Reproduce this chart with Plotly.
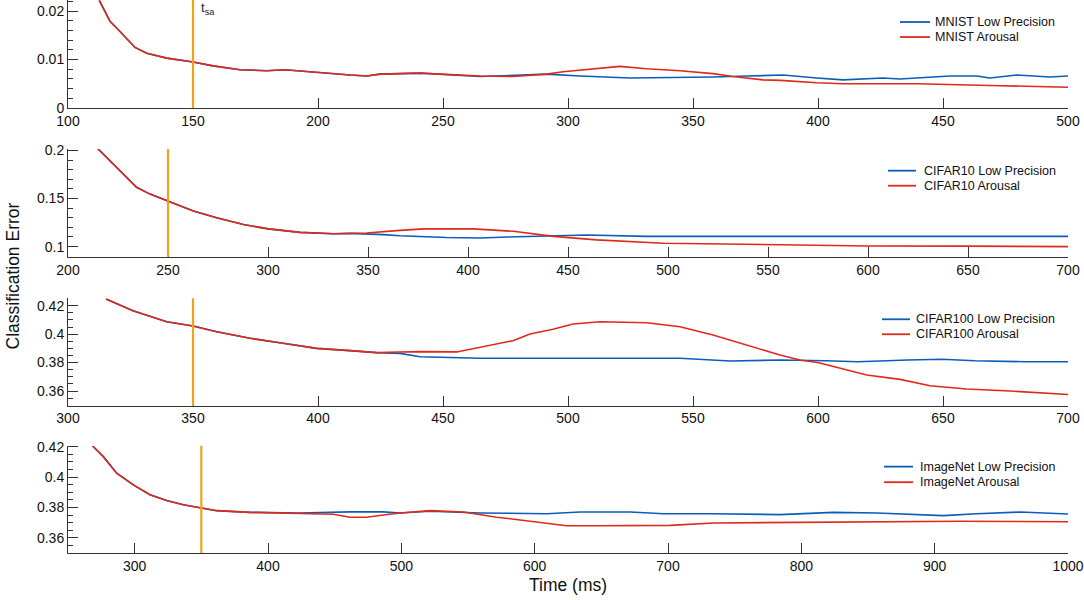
import plotly.graph_objects as go

# ---------------- data ----------------
panel_names = ["MNIST", "CIFAR10", "CIFAR100", "ImageNet"]
t_sa = [150, 250, 350, 350]

mnist_red_x = [112.5, 116.8, 120.8, 126.8, 131.5, 139.5, 150, 158, 168.8, 179.5, 186.7, 199.5,
               212.8, 219.5, 224.8, 240.8, 251.5, 264.8, 278, 291.5, 298, 311.5, 320.8, 331.5,
               344.8, 358, 366, 378, 385, 399.5, 410, 439.5, 459.5, 472.8, 500]
mnist_red_y = [0.0222, 0.0179, 0.0158, 0.0125, 0.0113, 0.0103, 0.0095, 0.0087, 0.0079, 0.0077,
               0.0079, 0.0073, 0.0068, 0.0066, 0.0070, 0.0072, 0.0069, 0.0066, 0.0065, 0.0070,
               0.0075, 0.0081, 0.0086, 0.0081, 0.0077, 0.0071, 0.0065, 0.0058, 0.0057, 0.0052,
               0.0050, 0.0050, 0.0047, 0.0046, 0.0043]
mnist_blue_x = [112.5, 116.8, 120.8, 126.8, 131.5, 139.5, 150, 158, 168.8, 179.5, 186.7, 199.5,
                212.8, 219.5, 224.8, 240.8, 251.5, 264.8, 291.5, 304.8, 324.8, 344.8, 358, 371.5,
                386, 399.5, 410, 426, 432.8, 452.8, 463.5, 468.8, 479.5, 492.8, 500]
mnist_blue_y = [0.0222, 0.0179, 0.0158, 0.0125, 0.0113, 0.0103, 0.0095, 0.0087, 0.0079, 0.0077,
                0.0079, 0.0073, 0.0068, 0.0066, 0.0070, 0.0072, 0.0069, 0.0065, 0.0070, 0.0066,
                0.0062, 0.0063, 0.0064, 0.0066, 0.0068, 0.0062, 0.0058, 0.0062, 0.0060, 0.0066,
                0.0066, 0.0062, 0.0068, 0.0064, 0.0066]

cifar10_red_x = [214.8, 220.2, 226, 234.3, 241, 249.8, 262.7, 274.3, 287.7, 300.2, 316, 332.7,
                 349.3, 366, 377.7, 402.7, 422.7, 442.7, 464.3, 497.7, 522.7, 547.7, 600, 650, 700]
cifar10_red_y = [0.2021, 0.1908, 0.1789, 0.1617, 0.1546, 0.1475, 0.1370, 0.1300, 0.1229, 0.1184,
                 0.1148, 0.1134, 0.1141, 0.1169, 0.1184, 0.1184, 0.1159, 0.1106, 0.1070, 0.1035,
                 0.1028, 0.1014, 0.1007, 0.1005, 0.1000]
cifar10_blue_x = [214.8, 220.2, 226, 234.3, 241, 249.8, 262.7, 274.3, 287.7, 300.2, 316, 332.7,
                  341, 357.7, 366, 389.3, 406, 420, 439.3, 459.3, 489.3, 522.7, 547.7, 600, 650, 700]
cifar10_blue_y = [0.2021, 0.1908, 0.1789, 0.1617, 0.1546, 0.1475, 0.1370, 0.1300, 0.1229, 0.1184,
                  0.1148, 0.1134, 0.1138, 0.1125, 0.1113, 0.1095, 0.1090, 0.1100, 0.1113, 0.1120,
                  0.1106, 0.1106, 0.1100, 0.1104, 0.1106, 0.1106]

cifar100_red_x = [315.2, 326, 339.5, 350, 359.5, 372.8, 386, 399.5, 412.8, 423.5, 432.8, 440.8,
                  455.5, 464.8, 478, 484.8, 494, 502, 512.8, 531.5, 544.8, 558, 571.5, 576.8,
                  584.8, 592.8, 600.3, 619.5, 632.8, 644.8, 659.5, 676.8, 696.8, 700]
cifar100_red_y = [0.4247, 0.4165, 0.4087, 0.4057, 0.4017, 0.3971, 0.3936, 0.3900, 0.3884, 0.3870,
                  0.3874, 0.3877, 0.3875, 0.3908, 0.3954, 0.4001, 0.4034, 0.4071, 0.4087, 0.4080,
                  0.4052, 0.3994, 0.3924, 0.3893, 0.3853, 0.3818, 0.3799, 0.3713, 0.3682, 0.3637,
                  0.3614, 0.3600, 0.3579, 0.3576]
cifar100_blue_x = [315.2, 326, 339.5, 350, 359.5, 372.8, 386, 399.5, 412.8, 423.5, 432.8, 440.8,
                   464.8, 500, 544.8, 564.8, 584.8, 603, 616, 636, 649.5, 662.8, 682.8, 700]
cifar100_blue_y = [0.4247, 0.4165, 0.4087, 0.4057, 0.4017, 0.3971, 0.3936, 0.3900, 0.3884, 0.3870,
                   0.3865, 0.3841, 0.3830, 0.3830, 0.3830, 0.3811, 0.3818, 0.3813, 0.3806, 0.3818,
                   0.3823, 0.3813, 0.3806, 0.3806]

imagenet_red_x = [268.5, 276.5, 286.5, 299, 311.5, 324, 336.5, 349.8, 361.5, 386.5, 411.5, 436.5,
                  449, 461.5, 474, 486.5, 499, 521.5, 546.5, 571.5, 596.5, 624, 646.5, 671.5,
                  701.5, 734, 784, 844, 919, 1000]
imagenet_red_y = [0.4205, 0.4135, 0.4026, 0.3949, 0.3884, 0.3846, 0.3818, 0.3797, 0.3779, 0.3768,
                  0.3764, 0.3757, 0.3755, 0.3736, 0.3736, 0.3750, 0.3764, 0.3779, 0.3770, 0.3736,
                  0.3708, 0.3680, 0.3680, 0.3680, 0.3682, 0.3698, 0.3702, 0.3704, 0.3709, 0.3706]
imagenet_blue_x = [268.5, 276.5, 286.5, 299, 311.5, 324, 336.5, 349.8, 361.5, 386.5, 411.5, 424,
                   461.5, 486.5, 499, 521.5, 559, 609, 634, 671.5, 696.5, 734, 784, 824, 856.5,
                   906.5, 931.5, 964, 1000]
imagenet_blue_y = [0.4205, 0.4135, 0.4026, 0.3949, 0.3884, 0.3846, 0.3818, 0.3797, 0.3779, 0.3768,
                   0.3764, 0.3764, 0.3771, 0.3771, 0.3764, 0.3775, 0.3764, 0.3759, 0.3770, 0.3770,
                   0.3759, 0.3759, 0.3753, 0.3768, 0.3764, 0.3746, 0.3759, 0.3770, 0.3757]

x_ranges = [[100, 500], [200, 700], [300, 700], [250, 1000]]
y_ranges = [[0, 0.0223], [0.0895, 0.2015], [0.3497, 0.4252], [0.3500, 0.4207]]
x_tickvals = [list(range(100, 501, 50)), list(range(200, 701, 50)),
              list(range(300, 701, 50)), list(range(300, 1001, 100))]
y_tickvals = [[0, 0.01, 0.02], [0.1, 0.15, 0.2], [0.36, 0.38, 0.40, 0.42], [0.36, 0.38, 0.40, 0.42]]
y_ticktext = [["0", "0.01", "0.02"], ["0.1", "0.15", "0.2"],
              ["0.36", "0.38", "0.4", "0.42"], ["0.36", "0.38", "0.4", "0.42"]]
y_minor_dtick = [0.002, 0.01, 0.005, 0.005]

series = [
    (mnist_blue_x, mnist_blue_y, mnist_red_x, mnist_red_y),
    (cifar10_blue_x, cifar10_blue_y, cifar10_red_x, cifar10_red_y),
    (cifar100_blue_x, cifar100_blue_y, cifar100_red_x, cifar100_red_y),
    (imagenet_blue_x, imagenet_blue_y, imagenet_red_x, imagenet_red_y),
]
legend_suffix = ["Low Precision", "Arousal"]

# ---------------- styling ----------------
BLUE = "#0B5DB8"
RED = "#DE2A1A"
ORANGE = "#EFA21B"
AXC = "#333333"
FONT = "Liberation Sans, Arial, Helvetica, sans-serif"

y_domains = [[0.8047, 1.0], [0.5358, 0.7306], [0.2664, 0.4606], [0.0, 0.1940]]
# legend placement inside each axis domain
leg_line_x = [[0.832, 0.862], [0.820, 0.848], [0.814, 0.842], [0.816, 0.845]]
leg_text_x = [0.865, 0.854, 0.846, 0.850]
leg_rows_y = [[0.796, 0.657], [0.7985, 0.659], [0.8045, 0.665], [0.805, 0.660]]

fig = go.Figure()
shapes = []
annotations = []

for i in range(4):
    xa = "x" if i == 0 else f"x{i+1}"
    ya = "y" if i == 0 else f"y{i+1}"
    bx, by, rx, ry = series[i]
    fig.add_trace(go.Scatter(x=bx, y=by, mode="lines", xaxis=xa, yaxis=ya,
                             line=dict(color=BLUE, width=1.6),
                             name=f"{panel_names[i]} {legend_suffix[0]}", showlegend=False))
    fig.add_trace(go.Scatter(x=rx, y=ry, mode="lines", xaxis=xa, yaxis=ya,
                             line=dict(color=RED, width=1.6),
                             name=f"{panel_names[i]} {legend_suffix[1]}", showlegend=False))
    # t_sa vertical line
    shapes.append(dict(type="line", xref=xa, yref=f"{ya} domain", x0=t_sa[i], x1=t_sa[i],
                       y0=0, y1=1, line=dict(color=ORANGE, width=2.2), layer="above"))
    # manual legend
    for k, col in enumerate([BLUE, RED]):
        shapes.append(dict(type="line", xref=f"{xa} domain", yref=f"{ya} domain",
                           x0=leg_line_x[i][0], x1=leg_line_x[i][1],
                           y0=leg_rows_y[i][k], y1=leg_rows_y[i][k],
                           line=dict(color=col, width=1.8)))
        annotations.append(dict(xref=f"{xa} domain", yref=f"{ya} domain",
                                x=leg_text_x[i], y=leg_rows_y[i][k],
                                xanchor="left", yanchor="middle", showarrow=False,
                                text=f"{panel_names[i]} {legend_suffix[k]}",
                                font=dict(size=12.5, color="#111111", family=FONT)))

    axis_common = dict(showline=True, linecolor=AXC, linewidth=1, ticks="inside",
                       tickcolor=AXC, tickwidth=1, showgrid=False, zeroline=False,
                       automargin=False,
                       tickfont=dict(size=14, color="#111111", family=FONT))
    xkey = "xaxis" if i == 0 else f"xaxis{i+1}"
    ykey = "yaxis" if i == 0 else f"yaxis{i+1}"
    fig.update_layout({
        xkey: dict(axis_common, anchor=ya, domain=[0, 1], range=x_ranges[i],
                   tickmode="array", tickvals=x_tickvals[i], ticklen=10),
        ykey: dict(axis_common, anchor=xa, domain=y_domains[i], range=y_ranges[i],
                   tickmode="array", tickvals=y_tickvals[i], ticktext=y_ticktext[i],
                   ticklen=10,
                   minor=dict(dtick=y_minor_dtick[i], tick0=0, ticks="inside", ticklen=5,
                              tickcolor=AXC, tickwidth=1, showgrid=False)),
    })

# t_sa label
annotations.append(dict(xref="x", yref="y domain", x=t_sa[0], y=1.02, xanchor="left",
                        yanchor="top", xshift=6, showarrow=False,
                        text="t<sub>sa</sub>", font=dict(size=13, color="#222222", family=FONT)))
# axis titles
annotations.append(dict(xref="paper", yref="paper", x=-0.056, y=0.5, textangle=-90,
                        xanchor="center", yanchor="middle", showarrow=False,
                        text="Classification Error", font=dict(size=17.5, color="#111111", family=FONT)))
annotations.append(dict(xref="paper", yref="paper", x=0.5, y=-0.058, xanchor="center",
                        yanchor="middle", showarrow=False,
                        text="Time (ms)", font=dict(size=17.5, color="#111111", family=FONT)))

fig.update_layout(width=1084, height=600, margin=dict(l=68, r=16, t=0, b=47, pad=0),
                  autosize=False,
                  paper_bgcolor="white", plot_bgcolor="white", showlegend=False,
                  shapes=shapes, annotations=annotations, font=dict(family=FONT))

fig.write_html("out.html", config={"displayModeBar": False},
               post_script="document.body.style.margin='0px';"
                           "document.body.style.overflow='hidden';"
                           "document.documentElement.style.overflow='hidden';")
